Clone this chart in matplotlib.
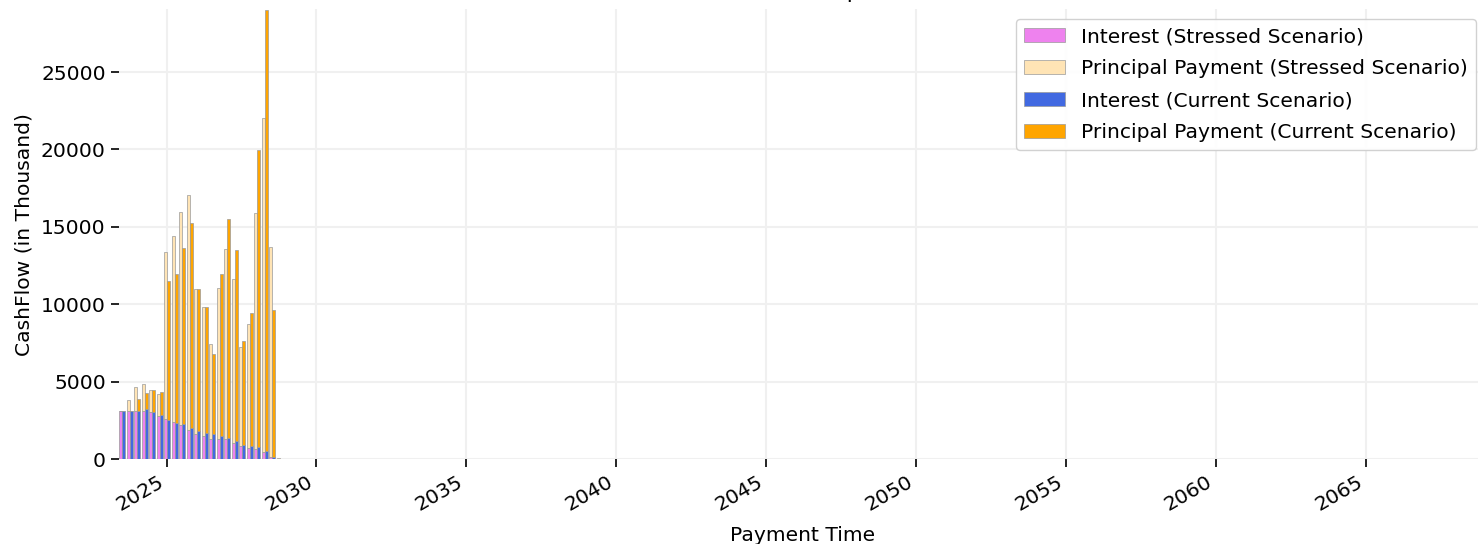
import matplotlib
matplotlib.use('Agg')
import matplotlib.pyplot as plt
import matplotlib.dates as mdates
import numpy as np
import pandas as pd

# quarterly payment dates
payment_dates = pd.date_range('2023-07-10', periods=22, freq=pd.DateOffset(months=3))

# cash flows in thousand
stressed_interest = [3140, 3140, 3140, 3140, 3030, 2800, 2580, 2400, 2210, 1920,
                     1640, 1510, 1340, 1340, 1290, 1070, 860, 755, 646, 496, 172, 0]
stressed_principal = [0, 690, 1510, 1700, 1430, 1390, 10810, 12040, 13740, 15170,
                      9370, 8350, 6080, 9750, 12280, 10600, 6400, 7960, 15280, 21560, 13560, 105]
current_interest = [3140, 3140, 3140, 3240, 3060, 2850, 2540, 2370, 2290, 2020,
                    1830, 1700, 1610, 1530, 1360, 1160, 905, 860, 770, 560, 129, 0]
current_principal = [0, 0, 770, 1020, 1410, 1510, 8960, 9580, 11380, 13260,
                     9190, 8160, 5210, 10450, 14180, 12320, 6730, 8600, 19190, 28440, 9540, 0]

fig = plt.figure(figsize=(14.78, 5.44), dpi=100)
ax = fig.add_axes([119 / 1478, (544 - 459.3) / 544, (1486 - 119) / 1478, (459.3 - 9) / 544])

offset = pd.Timedelta(days=18)
width = 36
edge = dict(edgecolor='#9a9a9a', linewidth=0.5)

x_s = payment_dates - offset
x_c = payment_dates + offset
ax.bar(x_s, stressed_interest, width=width, color='violet', label='Interest (Stressed Scenario)', **edge)
ax.bar(x_s, stressed_principal, width=width, bottom=stressed_interest, color='moccasin',
       label='Principal Payment (Stressed Scenario)', **edge)
ax.bar(x_c, current_interest, width=width, color='royalblue', label='Interest (Current Scenario)', **edge)
ax.bar(x_c, current_principal, width=width, bottom=current_interest, color='orange',
       label='Principal Payment (Current Scenario)', **edge)

ax.set_xlim(pd.Timestamp('2023-06-01'), pd.Timestamp('2069-01-05'))
ax.set_ylim(0, 29070)

ax.xaxis.set_major_locator(mdates.YearLocator(5))
ax.xaxis.set_major_formatter(mdates.DateFormatter('%Y'))
for lbl in ax.get_xticklabels():
    lbl.set_rotation(30)
    lbl.set_ha('right')

ax.set_yticks([0, 5000, 10000, 15000, 20000, 25000])
ax.tick_params(axis='both', labelsize=14.6, length=6, width=1.2, color='black')

ax.grid(True, color='#f0f0f0', linewidth=1.5)
ax.set_axisbelow(True)
for s in ax.spines.values():
    s.set_visible(False)

ax.set_xlabel('Payment Time', fontsize=14.6, labelpad=8)
ax.set_ylabel('CashFlow (in Thousand)', fontsize=14.6, labelpad=5)
ax.set_title('Cash Flow Comparison', fontsize=16, pad=8)

ax.legend(loc='upper right', fontsize=14.6, framealpha=0.9, labelspacing=0.64)

fig.savefig('out.png', dpi=100)
